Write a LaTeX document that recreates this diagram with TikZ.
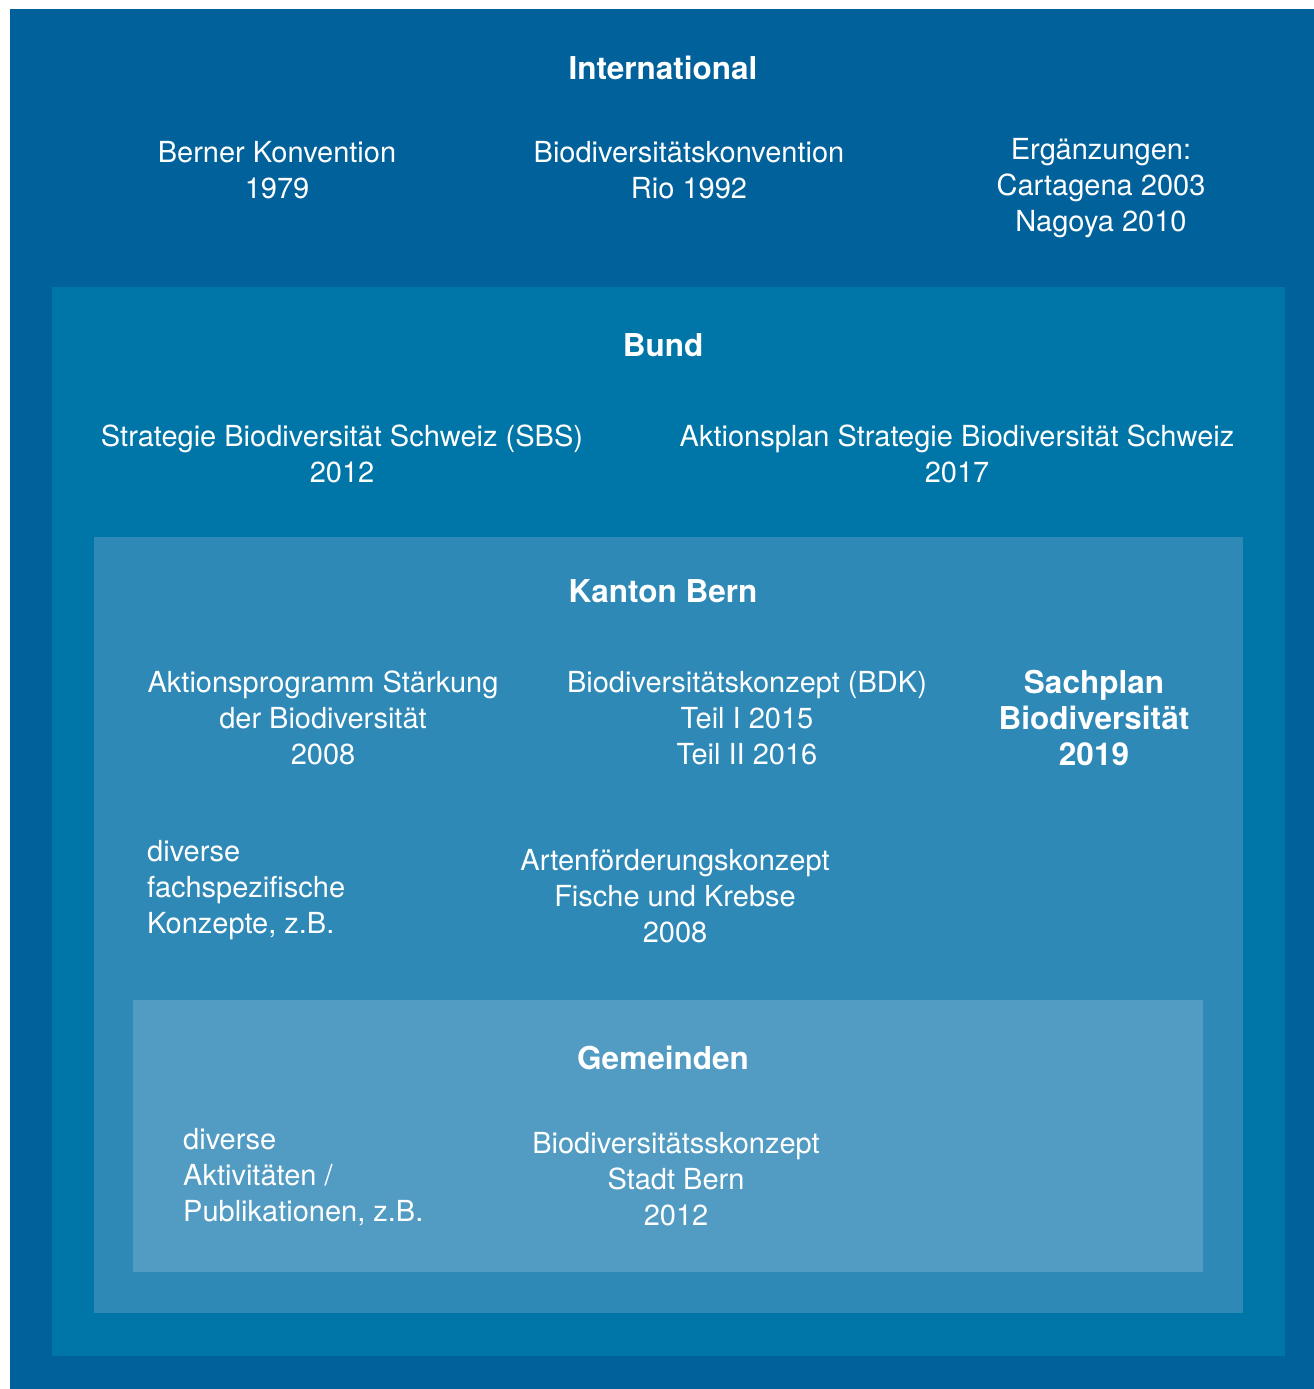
\documentclass[tikz,border=0pt]{standalone}
\usepackage{fontspec}
\setmainfont{TeX Gyre Heros}
\definecolor{lvInt}{RGB}{0,97,155}
\definecolor{lvBund}{RGB}{0,118,168}
\definecolor{lvKanton}{RGB}{46,137,183}
\definecolor{lvGem}{RGB}{82,156,196}
\tikzset{
  level/.style={draw=none,fill=#1},
  txt/.style={text=white,font=\fontsize{29}{36}\selectfont,align=center,inner sep=0pt},
  txtl/.style={txt,align=left,anchor=west},
  head/.style={text=white,font=\fontsize{31.5}{36}\selectfont\bfseries,align=center,inner sep=0pt},
}
\begin{document}
\begin{tikzpicture}[x=1pt,y=-1pt]
  \useasboundingbox[fill=white] (0,0) rectangle (1314,1389);
  % nested levels
  \fill[lvInt] (10,9) rectangle (1314,1389);
  \fill[lvBund] (52,287) rectangle (1285,1356);
  \fill[lvKanton] (94,537) rectangle (1243,1313);
  \fill[lvGem] (133,1000) rectangle (1203,1272);

  % International
  \node[head] (intl) at (663,68) {International};
  \node[txt] (bern) at (277,170) {Berner Konvention\\1979};
  \node[txt] (rio) at (689,170) {Biodiversitätskonvention\\Rio 1992};
  \node[txt] (erg) at (1101,188) {Ergänzungen:\\Cartagena 2003\\Nagoya 2010};

  % Bund
  \node[head] (bund) at (663,345) {Bund};
  \node[txt] (sbs) at (342,454) {Strategie Biodiversität Schweiz (SBS)\\2012};
  \node[txt] (ap) at (957,454) {Aktionsplan Strategie Biodiversität Schweiz\\2017};

  % Kanton Bern
  \node[head] (kanton) at (663,591) {Kanton Bern};
  \node[txt] (aps) at (323,718) {Aktionsprogramm Stärkung\\der Biodiversität\\2008};
  \node[txt] (bdk) at (747,718) {Biodiversitätskonzept (BDK)\\Teil I 2015\\Teil II 2016};
  \node[head] (sachplan) at (1094,718) {Sachplan\\Biodiversität\\2019};
  \node[txtl] (fach) at (147,890) {diverse\\fachspezifische\\Konzepte, z.B.};
  \node[txt] (afk) at (675,896) {Artenförderungskonzept\\Fische und Krebse\\2008};

  % Gemeinden
  \node[head] (gem) at (663,1058) {Gemeinden};
  \node[txtl] (akt) at (183,1177) {diverse\\Aktivitäten /\\Publikationen, z.B.};
  \node[txt] (stadt) at (676,1179) {Biodiversitätsskonzept\\Stadt Bern\\2012};
\end{tikzpicture}
\end{document}
